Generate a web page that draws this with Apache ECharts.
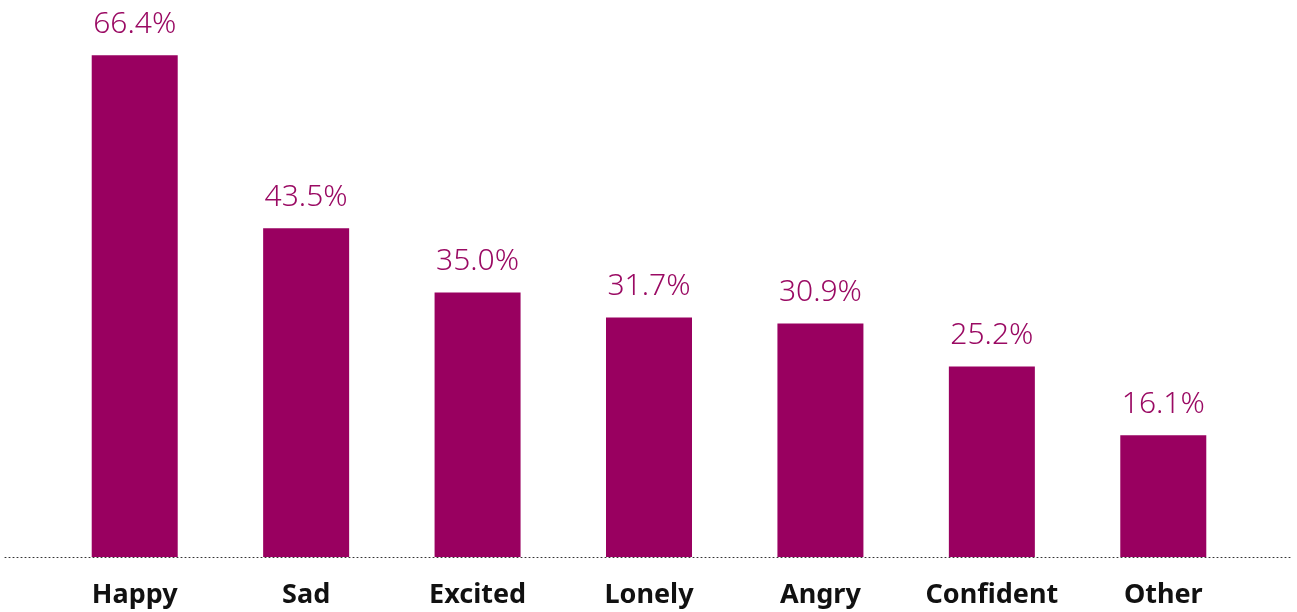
<!DOCTYPE html>
<html>
<head>
<meta charset="utf-8">
<script src="https://cdn.jsdelivr.net/npm/echarts@6/dist/echarts.min.js"></script>
<style>
  html, body { margin: 0; padding: 0; background: #ffffff; }
  #chart { width: 1297px; height: 612px; }
</style>
</head>
<body>
<div id="chart"></div>
<script>
// Feelings reported, share of respondents (%)
const categories = ['Happy', 'Sad', 'Excited', 'Lonely', 'Angry', 'Confident', 'Other'];
const shares = [66.4, 43.5, 35.0, 31.7, 30.9, 25.2, 16.1];

const barColor = '#990060';

const chart = echarts.init(document.getElementById('chart'));
chart.setOption({
  animation: false,
  grid: [
    { left: 49, right: 48, top: 0, bottom: 55 },
    // wider baseline strip running almost edge to edge
    { left: 5, right: 4, top: 0, bottom: 55 }
  ],
  xAxis: [
    {
      type: 'category',
      gridIndex: 0,
      data: categories,
      axisLine: { show: false },
      axisTick: { show: false },
      axisLabel: {
        interval: 0,
        margin: 25,
        color: '#111111',
        fontFamily: 'Noto Sans',
        fontWeight: 'bold',
        fontSize: 27
      }
    },
    {
      type: 'value',
      gridIndex: 1,
      min: 0,
      max: 1,
      axisLine: { show: true, lineStyle: { color: '#333333', type: [1, 3], width: 1 } },
      axisTick: { show: false },
      axisLabel: { show: false },
      splitLine: { show: false }
    }
  ],
  yAxis: [
    { type: 'value', gridIndex: 0, min: 0, max: 73.7, show: false },
    { type: 'value', gridIndex: 1, min: 0, max: 1, show: false }
  ],
  series: [
    {
      type: 'bar',
      xAxisIndex: 0,
      yAxisIndex: 0,
      data: shares,
      barWidth: 86,
      itemStyle: { color: barColor },
      label: {
        show: true,
        position: 'top',
        distance: 16,
        color: '#9a0a63',
        fontFamily: 'Noto Sans',
        fontWeight: 300,
        fontSize: 30,
        formatter: p => p.value.toFixed(1) + '%'
      }
    }
  ]
});
</script>
</body>
</html>
